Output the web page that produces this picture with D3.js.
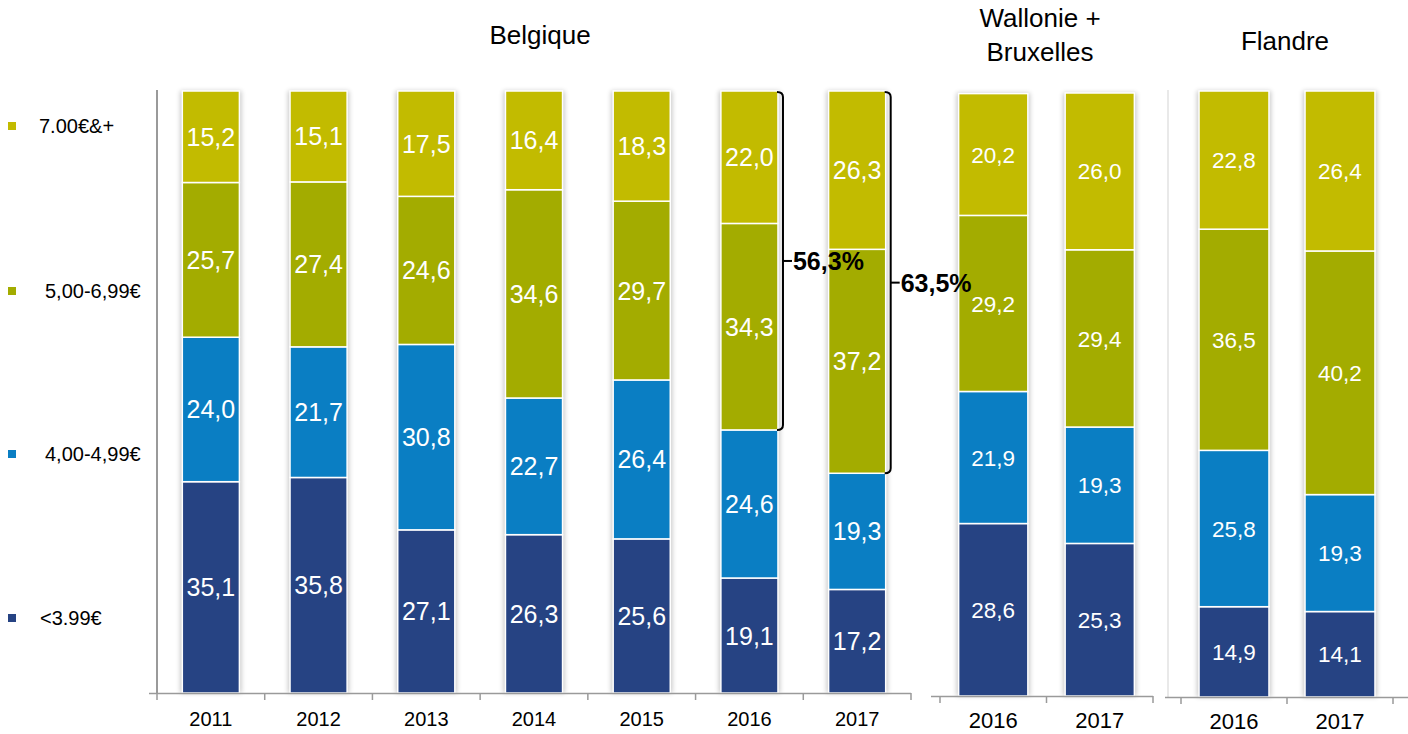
<!DOCTYPE html>
<html>
<head>
<meta charset="utf-8">
<script src="https://cdn.jsdelivr.net/npm/d3@7"></script>
<style>
  body { margin: 0; background: #fff; }
  svg { display: block; font-family: Arial, "Liberation Sans", sans-serif; }
</style>
</head>
<body>
<svg id="chart" width="1408" height="734"></svg>
<script>
// Tranches de prix (du bas vers le haut de la pile)
const tranches = ['<3.99€', '4,00-4,99€', '5,00-6,99€', '7.00€&+'];
const couleurs = ['#264383', '#0a7ec3', '#a3ac00', '#c2bb00'];

// Belgique
const anneesBE = ['2011', '2012', '2013', '2014', '2015', '2016', '2017'];
const beMoins399 = [35.1, 35.8, 27.1, 26.3, 25.6, 19.1, 17.2];
const be400a499 = [24.0, 21.7, 30.8, 22.7, 26.4, 24.6, 19.3];
const be500a699 = [25.7, 27.4, 24.6, 34.6, 29.7, 34.3, 37.2];
const be700plus = [15.2, 15.1, 17.5, 16.4, 18.3, 22.0, 26.3];

// Wallonie + Bruxelles
const anneesWB = ['2016', '2017'];
const wbMoins399 = [28.6, 25.3];
const wb400a499 = [21.9, 19.3];
const wb500a699 = [29.2, 29.4];
const wb700plus = [20.2, 26.0];

// Flandre
const anneesFL = ['2016', '2017'];
const flMoins399 = [14.9, 14.1];
const fl400a499 = [25.8, 19.3];
const fl500a699 = [36.5, 40.2];
const fl700plus = [22.8, 26.4];

// Accolades (part des 5,00€ et plus) sur la Belgique
const accoladeAnnees = ['2016', '2017'];

const svg = d3.select('#chart');

// Ombre grise autour des barres
const defs = svg.append('defs');
defs.append('filter')
    .attr('id', 'ombre')
    .attr('x', '-30%').attr('y', '-5%')
    .attr('width', '160%').attr('height', '110%')
    .append('feGaussianBlur')
    .attr('stdDeviation', 2.5);

const panneaux = [
    {
        titre: ['Belgique'], titreX: 540, titreY: [44],
        annees: anneesBE, series: [beMoins399, be400a499, be500a699, be700plus],
        x0: 157, x1: 911, yBas: 693, yHaut: 91, pad: 0.47,
        axeX0: 149, axeVertical: '#9a9a9a',
        fontVal: 25, fontAn: 20, anY: 726
    },
    {
        titre: ['Wallonie +', 'Bruxelles'], titreX: 1040, titreY: [27, 61],
        annees: anneesWB, series: [wbMoins399, wb400a499, wb500a699, wb700plus],
        x0: 940, x1: 1153, yBas: 696, yHaut: 93, pad: 0.35,
        axeX0: 931, axeVertical: null,
        fontVal: 22.5, fontAn: 22, anY: 728
    },
    {
        titre: ['Flandre'], titreX: 1285, titreY: [50],
        annees: anneesFL, series: [flMoins399, fl400a499, fl500a699, fl700plus],
        x0: 1181, x1: 1393, yBas: 697, yHaut: 91, pad: 0.34,
        axeX0: 1165, axeX1: 1408, axeVertical: '#e2e2e2',
        fontVal: 22.5, fontAn: 22, anY: 729
    }
];

const fmt = v => v.toFixed(1).replace('.', ',');
const echelles = [];

panneaux.forEach((p, pi) => {
    const g = svg.append('g').attr('class', 'panneau-' + pi);

    const x = d3.scaleBand()
        .domain(p.annees)
        .range([p.x0, p.x1])
        .paddingInner(p.pad)
        .paddingOuter(p.pad / 2);

    const y = d3.scaleLinear()
        .domain([0, 100])
        .range([p.yBas, p.yHaut]);

    echelles.push({ x, y });

    // Données empilées
    const table = p.annees.map((a, i) => {
        const row = { annee: a };
        tranches.forEach((t, k) => { row[t] = p.series[k][i]; });
        return row;
    });
    const pile = d3.stack().keys(tranches)(table);

    // Axe vertical
    if (p.axeVertical) {
        const xv = p.x0 - (pi === 2 ? 13 : 0);
        g.append('line')
            .attr('x1', xv).attr('x2', xv)
            .attr('y1', p.yHaut - 1).attr('y2', p.yBas)
            .attr('stroke', p.axeVertical)
            .attr('stroke-width', pi === 0 ? 2 : 1.5);
    }

    // Ombres
    g.selectAll('rect.ombre')
        .data(p.annees)
        .enter()
        .append('rect')
        .attr('class', 'ombre')
        .attr('x', d => x(d) - 2)
        .attr('y', y(100))
        .attr('width', x.bandwidth() + 4)
        .attr('height', y(0) - y(100))
        .attr('fill', '#000')
        .attr('opacity', 0.22)
        .attr('filter', 'url(#ombre)');

    // Segments
    const couches = g.selectAll('g.couche')
        .data(pile)
        .enter()
        .append('g')
        .attr('class', 'couche')
        .attr('fill', (d, k) => couleurs[k]);

    couches.selectAll('rect')
        .data(d => d)
        .enter()
        .append('rect')
        .attr('x', d => x(d.data.annee))
        .attr('y', d => y(d[1]))
        .attr('width', x.bandwidth())
        .attr('height', d => y(d[0]) - y(d[1]))
        .attr('stroke', '#fff')
        .attr('stroke-width', 1.5);

    // Valeurs
    couches.selectAll('text')
        .data(d => d)
        .enter()
        .append('text')
        .attr('x', d => x(d.data.annee) + x.bandwidth() / 2)
        .attr('y', d => (y(d[0]) + y(d[1])) / 2)
        .attr('dy', '0.36em')
        .attr('text-anchor', 'middle')
        .attr('fill', '#fff')
        .attr('font-size', p.fontVal + 'px')
        .text(d => fmt(d[1] - d[0]));

    // Axe horizontal
    const pas = x.step();
    const ticks = d3.range(p.annees.length + 1).map(i => p.x0 + i * pas);
    const axeX1 = p.axeX1 || p.x1;
    g.append('line')
        .attr('x1', p.axeX0).attr('x2', axeX1)
        .attr('y1', p.yBas + 0.5).attr('y2', p.yBas + 0.5)
        .attr('stroke', '#9a9a9a')
        .attr('stroke-width', 1.5);
    g.selectAll('line.tick')
        .data(ticks)
        .enter()
        .append('line')
        .attr('class', 'tick')
        .attr('x1', d => d).attr('x2', d => d)
        .attr('y1', p.yBas).attr('y2', p.yBas + 7)
        .attr('stroke', '#9a9a9a')
        .attr('stroke-width', 1.5);

    // Années
    g.selectAll('text.annee')
        .data(p.annees)
        .enter()
        .append('text')
        .attr('class', 'annee')
        .attr('x', d => x(d) + x.bandwidth() / 2)
        .attr('y', p.anY)
        .attr('text-anchor', 'middle')
        .attr('font-size', p.fontAn + 'px')
        .attr('fill', '#000')
        .text(d => d);

    // Titre
    g.selectAll('text.titre')
        .data(p.titre)
        .enter()
        .append('text')
        .attr('class', 'titre')
        .attr('x', p.titreX)
        .attr('y', (d, i) => p.titreY[i])
        .attr('text-anchor', 'middle')
        .attr('font-size', '26px')
        .attr('fill', '#000')
        .text(d => d);
});

// Accolades sur la Belgique, dessinées en dernier (le texte passe par-dessus)
const pBE = panneaux[0];
const { x: xBE, y: yBE } = echelles[0];
const gAcc = svg.append('g').attr('class', 'accolades');
accoladeAnnees.forEach(a => {
    const i = pBE.annees.indexOf(a);
    const total = pBE.series[2][i] + pBE.series[3][i];
    const xb = xBE(a) + xBE.bandwidth() + 5;
    const haut = yBE(100) + 1;
    const bas = yBE(100 - total);
    const milieu = (haut + bas) / 2;
    const path = d3.path();
    path.moveTo(xb - 6, haut);
    path.quadraticCurveTo(xb, haut, xb, haut + 5);
    path.lineTo(xb, bas - 5);
    path.quadraticCurveTo(xb, bas, xb - 6, bas);
    gAcc.append('path')
        .attr('d', path.toString())
        .attr('fill', 'none')
        .attr('stroke', '#000')
        .attr('stroke-width', 2);
    gAcc.append('line')
        .attr('x1', xb).attr('x2', xb + 9)
        .attr('y1', milieu).attr('y2', milieu)
        .attr('stroke', '#000')
        .attr('stroke-width', 2);
    gAcc.append('text')
        .attr('x', xb + 10)
        .attr('y', milieu)
        .attr('dy', '0.36em')
        .attr('font-size', '25px')
        .attr('font-weight', 'bold')
        .attr('fill', '#000')
        .text(fmt(total) + '%');
});

// Légende (à gauche, du haut vers le bas)
const legendeY = [126, 291, 454, 618];
const legendeX = [39, 45, 45, 40];
const legende = svg.append('g').attr('class', 'legende');
const ordreLegende = [3, 2, 1, 0];
ordreLegende.forEach((k, i) => {
    legende.append('rect')
        .attr('x', 8).attr('y', legendeY[i] - 4)
        .attr('width', 8).attr('height', 8)
        .attr('fill', couleurs[k]);
    legende.append('text')
        .attr('x', legendeX[i])
        .attr('y', legendeY[i])
        .attr('dy', '0.36em')
        .attr('font-size', '20px')
        .attr('fill', '#000')
        .text(tranches[k]);
});
</script>
</body>
</html>
